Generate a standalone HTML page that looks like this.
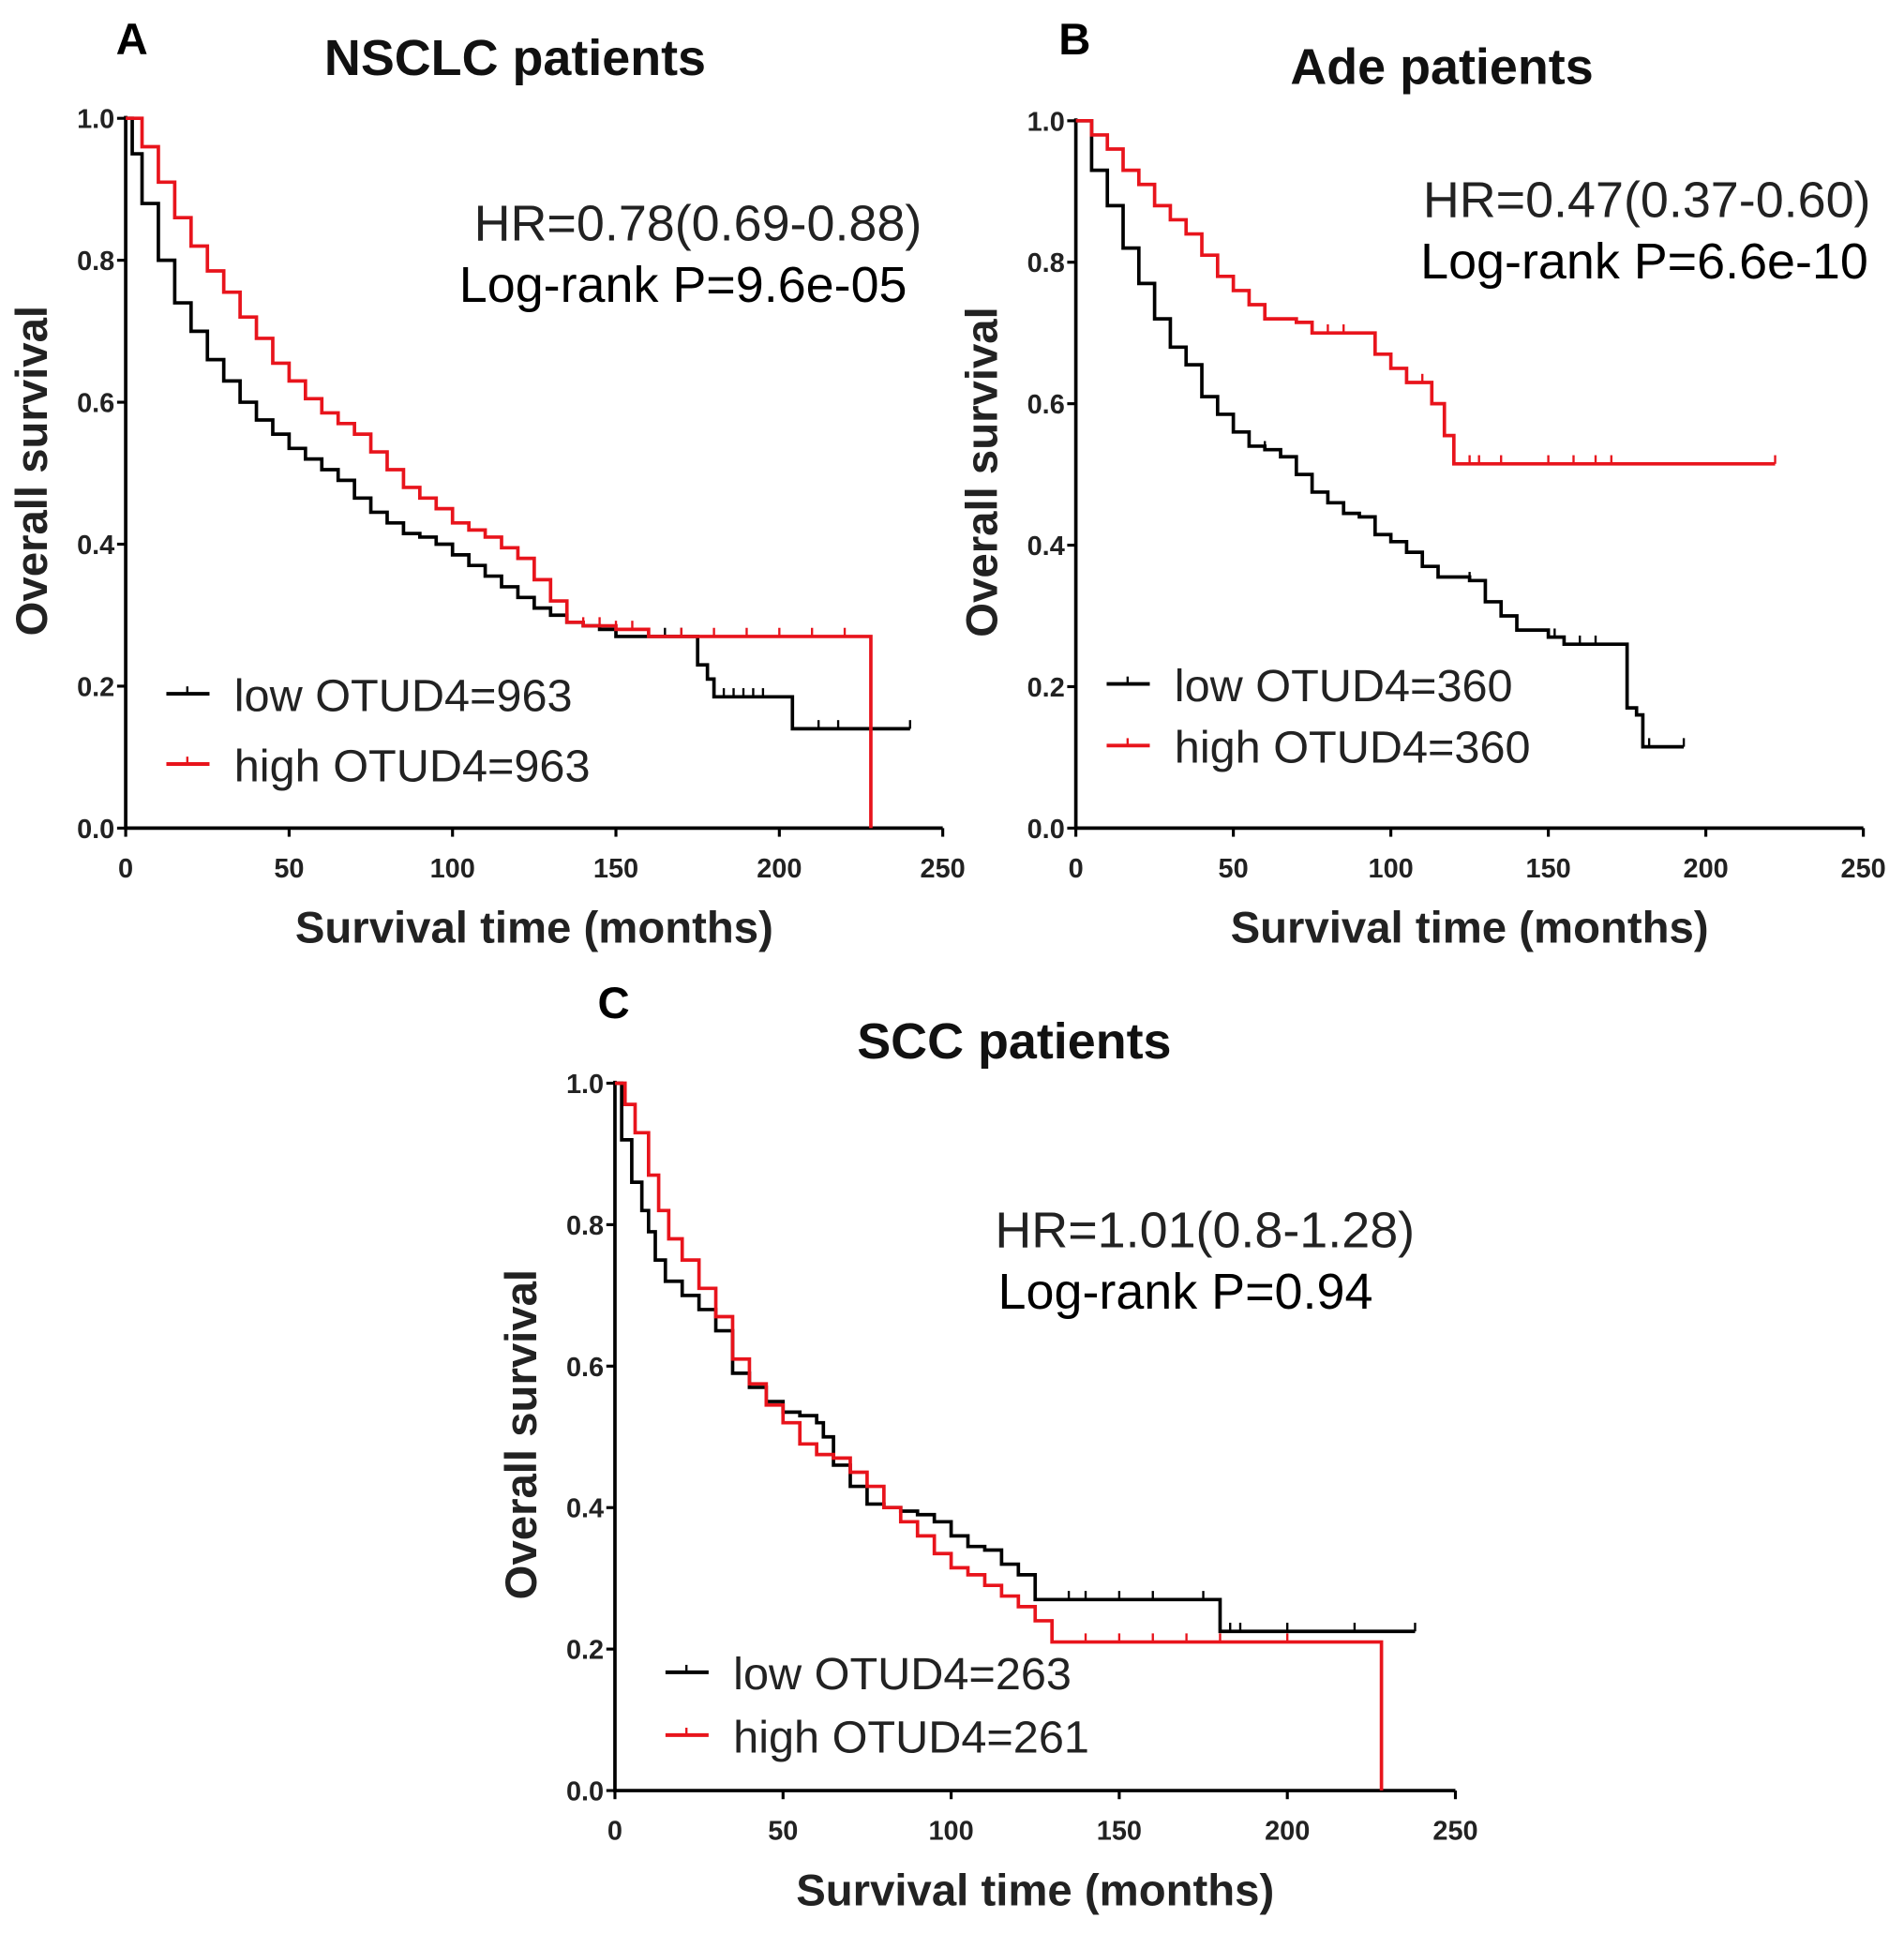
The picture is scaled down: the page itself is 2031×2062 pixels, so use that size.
<!DOCTYPE html>
<html><head><meta charset="utf-8"><style>
html,body{margin:0;padding:0;background:#fff;}
svg{display:block;}
text{font-family:"Liberation Sans",Arial,sans-serif;}
.b{font-weight:bold;}
</style></head><body>
<svg id="fig" width="2031" height="2062" viewBox="0 0 1545 1568.6" preserveAspectRatio="none" xmlns="http://www.w3.org/2000/svg">
<rect width="1545" height="1568.6" fill="#fff"/>
</svg>
<script>
// Panel A (NSCLC)
const aLowT=[0,2,5,10,15,20,25,30,35,40,45,50,55,60,65,70,75,80,85,90,95,100,105,110,115,120,125,130,135,140,145,150,175,178,180,204,240];
const aLowS=[1,0.95,0.88,0.8,0.74,0.7,0.66,0.63,0.6,0.575,0.555,0.535,0.52,0.505,0.49,0.465,0.445,0.43,0.415,0.41,0.4,0.385,0.37,0.355,0.34,0.325,0.31,0.3,0.29,0.285,0.28,0.27,0.23,0.21,0.185,0.14,0.14];
const aHighT=[0,5,10,15,20,25,30,35,40,45,50,55,60,65,70,75,80,85,90,95,100,105,110,115,120,125,130,135,140,150,160,228];
const aHighS=[1,0.96,0.91,0.86,0.82,0.785,0.755,0.72,0.69,0.655,0.63,0.605,0.585,0.57,0.555,0.53,0.505,0.48,0.465,0.45,0.43,0.42,0.41,0.395,0.38,0.35,0.32,0.29,0.285,0.28,0.27,0];
const aLowCens=[150,160,165,170,183,186,189,192,195,212,218,240];
const aHighCens=[140,145,150,155,160,170,180,190,200,210,220];
// Panel B (Ade)
const bLowT=[0,5,10,15,20,25,30,35,40,45,50,55,60,65,70,75,80,85,90,95,100,105,110,115,125,130,135,140,150,155,175,178,180,193];
const bLowS=[1,0.93,0.88,0.82,0.77,0.72,0.68,0.655,0.61,0.585,0.56,0.54,0.535,0.525,0.5,0.475,0.46,0.445,0.44,0.415,0.405,0.39,0.37,0.355,0.35,0.32,0.3,0.28,0.27,0.26,0.17,0.16,0.115,0.115];
const bHighT=[0,5,10,15,20,25,30,35,40,45,50,55,60,70,75,90,95,100,105,113,117,120,222];
const bHighS=[1,0.98,0.96,0.93,0.91,0.88,0.86,0.84,0.81,0.78,0.76,0.74,0.72,0.715,0.7,0.7,0.67,0.65,0.63,0.6,0.555,0.515,0.515];
const bLowCens=[40,60,80,95,105,125,152,160,165,182,193];
const bHighCens=[80,85,110,125,128,135,150,158,165,170,222];
// Panel C (SCC)
const cLowT=[0,2,5,8,10,12,15,20,25,30,35,40,45,50,55,60,62,65,70,75,80,85,90,95,100,105,110,115,120,125,180,238];
const cLowS=[1,0.92,0.86,0.82,0.79,0.75,0.72,0.7,0.68,0.65,0.59,0.57,0.55,0.535,0.53,0.52,0.5,0.46,0.43,0.405,0.4,0.395,0.39,0.38,0.36,0.345,0.34,0.32,0.305,0.27,0.225,0.225];
const cHighT=[0,3,6,10,13,16,20,25,30,35,40,45,50,55,60,65,70,75,80,85,90,95,100,105,110,115,120,125,130,228];
const cHighS=[1,0.97,0.93,0.87,0.82,0.78,0.75,0.71,0.67,0.61,0.575,0.545,0.52,0.49,0.475,0.47,0.45,0.43,0.4,0.38,0.36,0.335,0.315,0.305,0.29,0.275,0.26,0.24,0.21,0];
const cLowCens=[135,140,150,160,175,183,186,200,220,238];
const cHighCens=[140,150,160,170,180,200];
const xTicks=[0,50,100,150,200,250];
const yTicks=[0,0.2,0.4,0.6,0.8,1.0];
const yTickLabels=["0.0","0.2","0.4","0.6","0.8","1.0"];

const NS="http://www.w3.org/2000/svg";
const svg=document.getElementById('fig');
function mk(tag,attrs,parent){const e=document.createElementNS(NS,tag);for(const k in attrs)e.setAttribute(k,attrs[k]);(parent||svg).appendChild(e);return e;}
function txt(s,attrs,parent){const e=mk('text',attrs,parent);e.textContent=s;return e;}

function panel(cfg){
  const g=mk('g',{});
  
  
  const X=t=>cfg.x0+(cfg.x1-cfg.x0)*t/250;
  const Y=s=>cfg.y0+(cfg.y1-cfg.y0)*s;
  const t1=txt(cfg.letter,{x:cfg.lx,y:cfg.ly,'font-size':36,class:'b'},g);
  
  const t2=txt(cfg.title,{x:cfg.tx,y:cfg.ty,'font-size':41,class:'b','text-anchor':'middle',fill:'#111'},g);
  
  const ax=mk('path',{d:`M${cfg.x0} ${Y(1)-2}V${cfg.y0}H${cfg.x1}`,stroke:'#000','stroke-width':2.8,fill:'none'},g);
  
  xTicks.forEach(v=>{
    mk('line',{x1:X(v),x2:X(v),y1:cfg.y0,y2:cfg.y0+7,stroke:'#000','stroke-width':2.4},g);
    const l=txt(String(v),{x:X(v),y:cfg.y0+40,'font-size':22,class:'b','text-anchor':'middle',fill:'#222'},g);
    
  });
  yTicks.forEach((v,i)=>{
    mk('line',{x1:cfg.x0-7,x2:cfg.x0,y1:Y(v),y2:Y(v),stroke:'#000','stroke-width':2.4},g);
    const l=txt(yTickLabels[i],{x:cfg.x0-9,y:Y(v)+8,'font-size':22,class:'b','text-anchor':'end',fill:'#222'},g);
    
  });
  const xt=txt('Survival time (months)',{x:(cfg.x0+cfg.x1)/2,y:cfg.y0+93,'font-size':36,class:'b','text-anchor':'middle',fill:'#222'},g);
  
  const yc=(cfg.y0+Y(1))/2-2;
  const yx=cfg.x0-77;
  const yt=txt('Overall survival',{x:yx,y:yc,'font-size':36,class:'b','text-anchor':'middle',transform:`rotate(-90 ${yx} ${yc})`,dy:13,fill:'#222'},g);
  
  function stepVal(T,S,t){let v=S[0];for(let i=0;i<T.length;i++){if(T[i]<=t)v=S[i];}return v;}
  function curve(T,S,cens,color,name){
    let d=`M${X(T[0])} ${Y(S[0])}`;
    for(let i=1;i<T.length;i++){d+=`H${X(T[i])}V${Y(S[i])}`;}
    const p=mk('path',{d:d,stroke:color,'stroke-width':2.8,fill:'none'},g);
    
    cens.forEach(t=>{const v=stepVal(T,S,t);
      const c=mk('line',{x1:X(t),x2:X(t),y1:Y(v),y2:Y(v)-7,stroke:color,'stroke-width':1.8},g);
      });
  }
  curve(cfg.lowT,cfg.lowS,cfg.lowC,'#000','low-otud4-curve');
  curve(cfg.highT,cfg.highS,cfg.highC,'#e8141c','high-otud4-curve');
  const h=txt(cfg.hr,{x:cfg.hx,y:cfg.hy,'font-size':41,fill:'#222','text-anchor':'end'},g);
  
  const p=txt(cfg.p,{x:cfg.px,y:cfg.hy+50,'font-size':41,fill:'#000','text-anchor':'end'},g);
  
  [[cfg.lowLab,'#000',0],[cfg.highLab,'#e8141c',1]].forEach(([lab,col,i])=>{
    const ly=cfg.legY+i*cfg.legGap;
    const ln=mk('line',{x1:cfg.legX,x2:cfg.legX+35,y1:ly,y2:ly,stroke:col,'stroke-width':3},g);
    
    mk('line',{x1:cfg.legX+17,x2:cfg.legX+17,y1:ly,y2:ly-6,stroke:col,'stroke-width':1.8},g);
    const lt=txt(lab,{x:cfg.legX+55,y:ly+14,'font-size':37,fill:'#222'},g);
    
  });
}
panel({name:'panel-a-nsclc',letter:'A',lx:94,ly:44,title:'NSCLC patients',tx:418,ty:61,x0:102,x1:765,y0:672,y1:96,
  lowT:aLowT,lowS:aLowS,lowC:aLowCens,highT:aHighT,highS:aHighS,highC:aHighCens,
  hr:'HR=0.78(0.69-0.88)',hx:748,hy:195,p:'Log-rank P=9.6e-05',px:736,
  lowLab:'low OTUD4=963',highLab:'high OTUD4=963',legX:135,legY:563,legGap:57});
panel({name:'panel-b-ade',letter:'B',lx:859,ly:44,title:'Ade patients',tx:1170,ty:68,x0:873,x1:1512,y0:672,y1:98,
  lowT:bLowT,lowS:bLowS,lowC:bLowCens,highT:bHighT,highS:bHighS,highC:bHighCens,
  hr:'HR=0.47(0.37-0.60)',hx:1518,hy:176,p:'Log-rank P=6.6e-10',px:1516,
  lowLab:'low OTUD4=360',highLab:'high OTUD4=360',legX:898,legY:555,legGap:50});
panel({name:'panel-c-scc',letter:'C',lx:485,ly:826,title:'SCC patients',tx:823,ty:859,x0:499,x1:1181,y0:1453,y1:879,
  lowT:cLowT,lowS:cLowS,lowC:cLowCens,highT:cHighT,highS:cHighS,highC:cHighCens,
  hr:'HR=1.01(0.8-1.28)',hx:1148,hy:1012,p:'Log-rank P=0.94',px:1114,
  lowLab:'low OTUD4=263',highLab:'high OTUD4=261',legX:540,legY:1357,legGap:51});
</script>
</body></html>
